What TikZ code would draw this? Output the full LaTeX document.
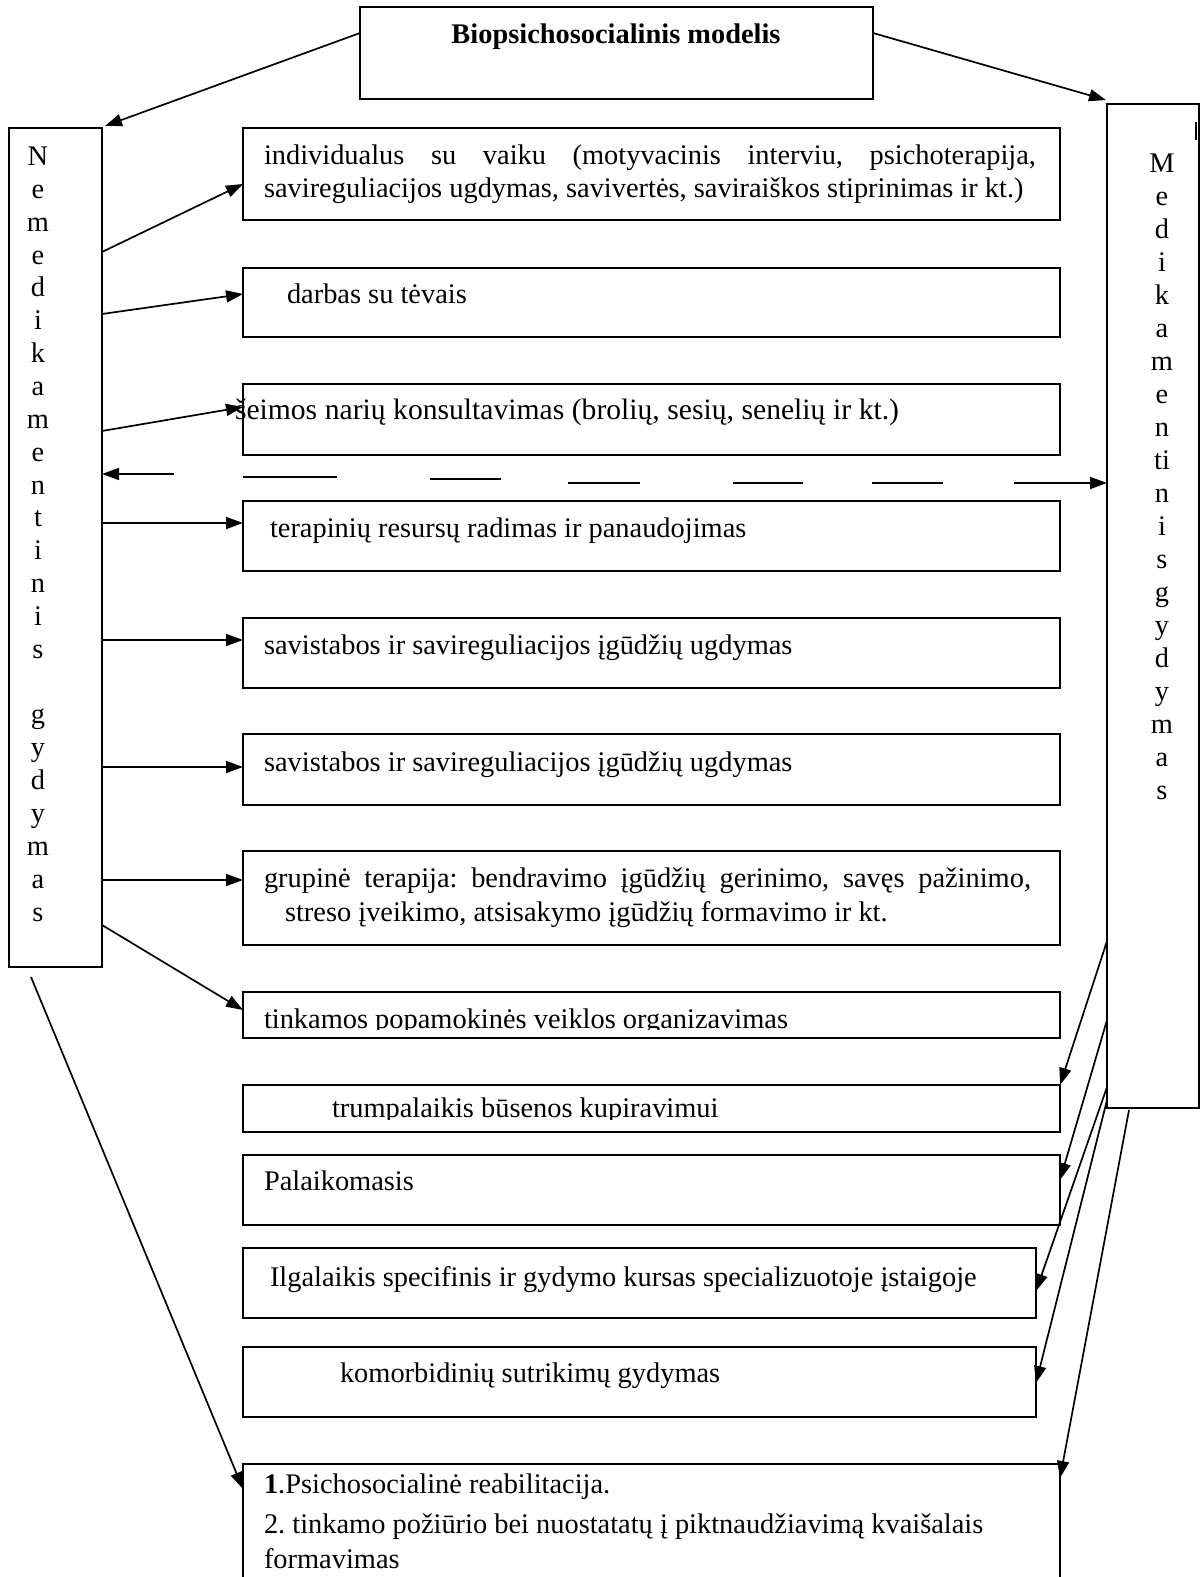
\documentclass[tikz,border=0pt]{standalone}
\usepackage{fontspec}
\setmainfont{Liberation Serif}
\usetikzlibrary{arrows.meta,calc}
\frenchspacing
\begin{document}
\begin{tikzpicture}[x=0.5pt,y=-0.5pt,
  line width=0.85pt,
  every node/.style={font=\fontsize{14.2pt}{16.7pt}\selectfont, inner sep=0pt, outer sep=0pt},
  boxframe/.style={draw, rectangle, anchor=north west, inner sep=0pt, outer sep=0pt},
  txt/.style={anchor=base west},
  letter/.style={anchor=base},
  link/.style={-{Triangle[length=8.5pt,width=6pt]}},
]
\useasboundingbox (0,0) rectangle (1200,1577);

% model box and the two treatment columns
\node[boxframe, minimum width=256.5pt, minimum height=46pt] (T) at (360,7) {};
\node[anchor=base, font=\fontsize{14.2pt}{16.7pt}\selectfont\bfseries] (title) at (616,44) {Biopsichosocialinis modelis};
\node[boxframe, minimum width=46.5pt, minimum height=419.5pt] (L) at (9,128) {};
\node[boxframe, minimum width=46pt, minimum height=502pt] (R) at (1107,104) {};
\draw (1196,122) -- (1196,140);

% vertical lettering
\foreach \c [count=\i] in {N,e,m,e,d,i,k,a,m,e,n,t,i,n,i,s,{},g,y,d,y,m,a,s}
  \node[letter] (lc\i) at (38,{165.5+(\i-1)*32.85}) {\c};
\foreach \c [count=\i] in {M,e,d,i,k,a,m,e,n,ti,n,i,s,g,y,d,y,m,a,s}
  \node[letter] (rc\i) at (1162,{173+(\i-1)*32.95}) {\c};

% intervention boxes
\node[boxframe, minimum width=408.5pt, minimum height=46pt]   (b1)  at (243,128) {};
\node[boxframe, minimum width=408.5pt, minimum height=34.5pt] (b2)  at (243,268) {};
\node[boxframe, minimum width=408.5pt, minimum height=35.5pt] (b3)  at (243,384) {};
\node[boxframe, minimum width=408.5pt, minimum height=35pt]   (b4)  at (243,501) {};
\node[boxframe, minimum width=408.5pt, minimum height=35pt]   (b5)  at (243,618) {};
\node[boxframe, minimum width=408.5pt, minimum height=35.5pt] (b6)  at (243,734) {};
\node[boxframe, minimum width=408.5pt, minimum height=47pt]   (b7)  at (243,851) {};
\node[boxframe, minimum width=408.5pt, minimum height=23pt]   (b8)  at (243,992) {};
\node[boxframe, minimum width=408.5pt, minimum height=23.5pt] (b9)  at (243,1085) {};
\node[boxframe, minimum width=408.5pt, minimum height=35pt]   (b10) at (243,1155) {};
\node[boxframe, minimum width=396.5pt, minimum height=35pt]   (b11) at (243,1248) {};
\node[boxframe, minimum width=396.5pt, minimum height=35pt]   (b12) at (243,1347) {};
\node[boxframe, minimum width=408.5pt, minimum height=68pt]   (b13) at (243,1464) {};

% box texts
\node[txt] (t1a) at (264,165) {\makebox[386pt][s]{individualus su vaiku (motyvacinis interviu, psichoterapija,}};
\node[txt] (t1b) at (264,198) {savireguliacijos ugdymas, savivertės, saviraiškos stiprinimas ir kt.)};
\node[txt] (t2) at (287,304) {darbas su tėvais};
\node[txt, font=\fontsize{14.8pt}{17pt}\selectfont] (t3) at (235,420) {\makebox[332pt][s]{šeimos narių konsultavimas (brolių, sesių, senelių ir kt.)}};
\node[txt] (t4) at (270,537) {terapinių resursų radimas ir panaudojimas};
\node[txt] (t5) at (264,654) {savistabos ir savireguliacijos įgūdžių ugdymas};
\node[txt] (t6) at (264,771) {savistabos ir savireguliacijos įgūdžių ugdymas};
\node[txt] (t7a) at (264,887) {\makebox[383.5pt][s]{grupinė terapija: bendravimo įgūdžių gerinimo, savęs pažinimo,}};
\node[txt] (t7b) at (285,921) {streso įveikimo, atsisakymo įgūdžių formavimo ir kt.};
\begin{scope}
  \clip (243,992) rectangle (1060,1029.5);
  \node[txt] (t8) at (264,1028) {tinkamos popamokinės veiklos organizavimas};
\end{scope}
\begin{scope}
  \clip (243,1085) rectangle (1060,1119);
  \node[txt] (t9) at (332,1117) {trumpalaikis būsenos kupiravimui};
\end{scope}
\node[txt] (t10) at (264,1190) {Palaikomasis};
\node[txt] (t11) at (270,1286) {Ilgalaikis specifinis ir gydymo kursas specializuotoje įstaigoje};
\node[txt] (t12) at (340,1382) {komorbidinių sutrikimų gydymas};
\node[txt] (t13a) at (264,1493) {\textbf{1}.Psichosocialinė reabilitacija.};
\node[txt] (t13b) at (264,1533) {2. tinkamo požiūrio bei nuostatatų į piktnaudžiavimą kvaišalais};
\node[txt] (t13c) at (264,1568) {formavimas};

% model to both columns
\draw[link] ($(T.north west)+(0,26)$) -- ($(L.north east)+(3,-2)$);
\draw[link] ($(T.north east)+(0,26)$) -- ($(R.north west)+(-1,-4)$);

% non-medical column to its interventions
\draw[link] ($(L.north east)+(0,124)$) -- ($(b1.north west)+(0,56)$);
\draw[link] ($(L.north east)+(0,186)$) -- ($(b2.north west)+(0,26)$);
\draw[link] ($(L.north east)+(0,303)$) -- ($(b3.north west)+(0,23)$);
\draw[link] ($(L.north east)+(0,395)$) -- ($(b4.north west)+(0,22)$);
\draw[link] ($(L.north east)+(0,512)$) -- ($(b5.north west)+(0,22)$);
\draw[link] ($(L.north east)+(0,639)$) -- ($(b6.north west)+(0,33)$);
\draw[link] ($(L.north east)+(0,752)$) -- ($(b7.north west)+(0,29)$);
\draw[link] ($(L.north east)+(0,797)$) -- ($(b8.north west)+(0,18)$);
\draw[link] ($(L.south west)+(22,10)$) -- ($(b13.north west)+(0,25)$);

% broken two-way line between the columns
\draw[link] ($(L.north east)+(72,346)$) -- ($(L.north east)+(0,346)$);
\draw (243,477) -- (337,477);
\draw (430,479) -- (501,479);
\draw (568,483) -- (640,483);
\draw (733,483) -- (803,483);
\draw (872,483) -- (943,483);
\draw[link] ($(R.north west)+(-93,379)$) -- ($(R.north west)+(0,379)$);

% medical column to its interventions
\draw[link] ($(R.north west)+(0,837)$) -- (b9.north east);
\draw[link] ($(R.north west)+(0,916)$) -- ($(b10.north east)+(0,25)$);
\draw[link] ($(R.north west)+(0,983)$) -- ($(b11.north east)+(0,43)$);
\draw[link] ($(R.north west)+(0,996)$) -- ($(b12.north east)+(0,36)$);
\draw[link] ($(R.south west)+(22,2)$) -- ($(b13.north east)+(0,14)$);
\end{tikzpicture}
\end{document}
